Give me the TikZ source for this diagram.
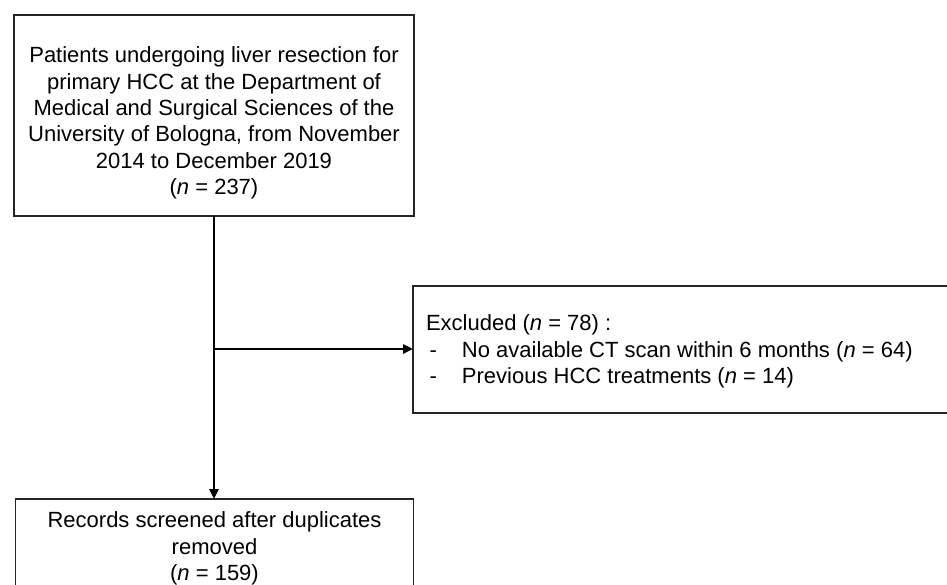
\documentclass[tikz,border=0pt]{standalone}
\usepackage{fontspec}
\setmainfont{Liberation Sans}
\usetikzlibrary{arrows.meta}
\begin{document}
\begin{tikzpicture}[x=1pt,y=-1pt,
  box/.style={draw=black!85,line width=1.3pt,rectangle,inner sep=0pt,outer sep=0pt,anchor=north west},
  txt/.style={inner sep=0pt,outer sep=0pt,font=\fontsize{22}{26.3}\selectfont},
  conn/.style={line width=2.8pt,-{Triangle[length=10pt,width=9pt]}}]
\useasboundingbox (0,0) rectangle (947,585);
\node[box,minimum width=400pt,minimum height=201pt] (top) at (14,15) {};
\node[box,minimum width=540pt,minimum height=127pt] (excl) at (413,286) {};
\node[box,minimum width=398pt,minimum height=110pt] (bot) at (15.5,499) {};
\node[txt,align=center,anchor=north] (toptxt) at (214,47) {Patients undergoing liver resection for\\primary HCC at the Department of\\Medical and Surgical Sciences of the\\University of Bologna, from November\\2014 to December 2019\\(\textit{n} = 237)};
\node[txt,align=left,anchor=north west] (excltxt) at (426,315) {Excluded (\textit{n} = 78) :\\\makebox[36pt][l]{\,-}No available CT scan within 6 months (\textit{n} = 64)\\\makebox[36pt][l]{\,-}Previous HCC treatments (\textit{n} = 14)};
\node[txt,align=center,anchor=north] (bottxt) at (214.5,512) {Records screened after duplicates\\removed\\(\textit{n} = 159)};
\coordinate (br) at (214,349);
\draw[conn] (top.south -| br) -- (bot.north -| br);
\draw[conn] (br) -- (excl.west |- br);
\end{tikzpicture}
\end{document}
